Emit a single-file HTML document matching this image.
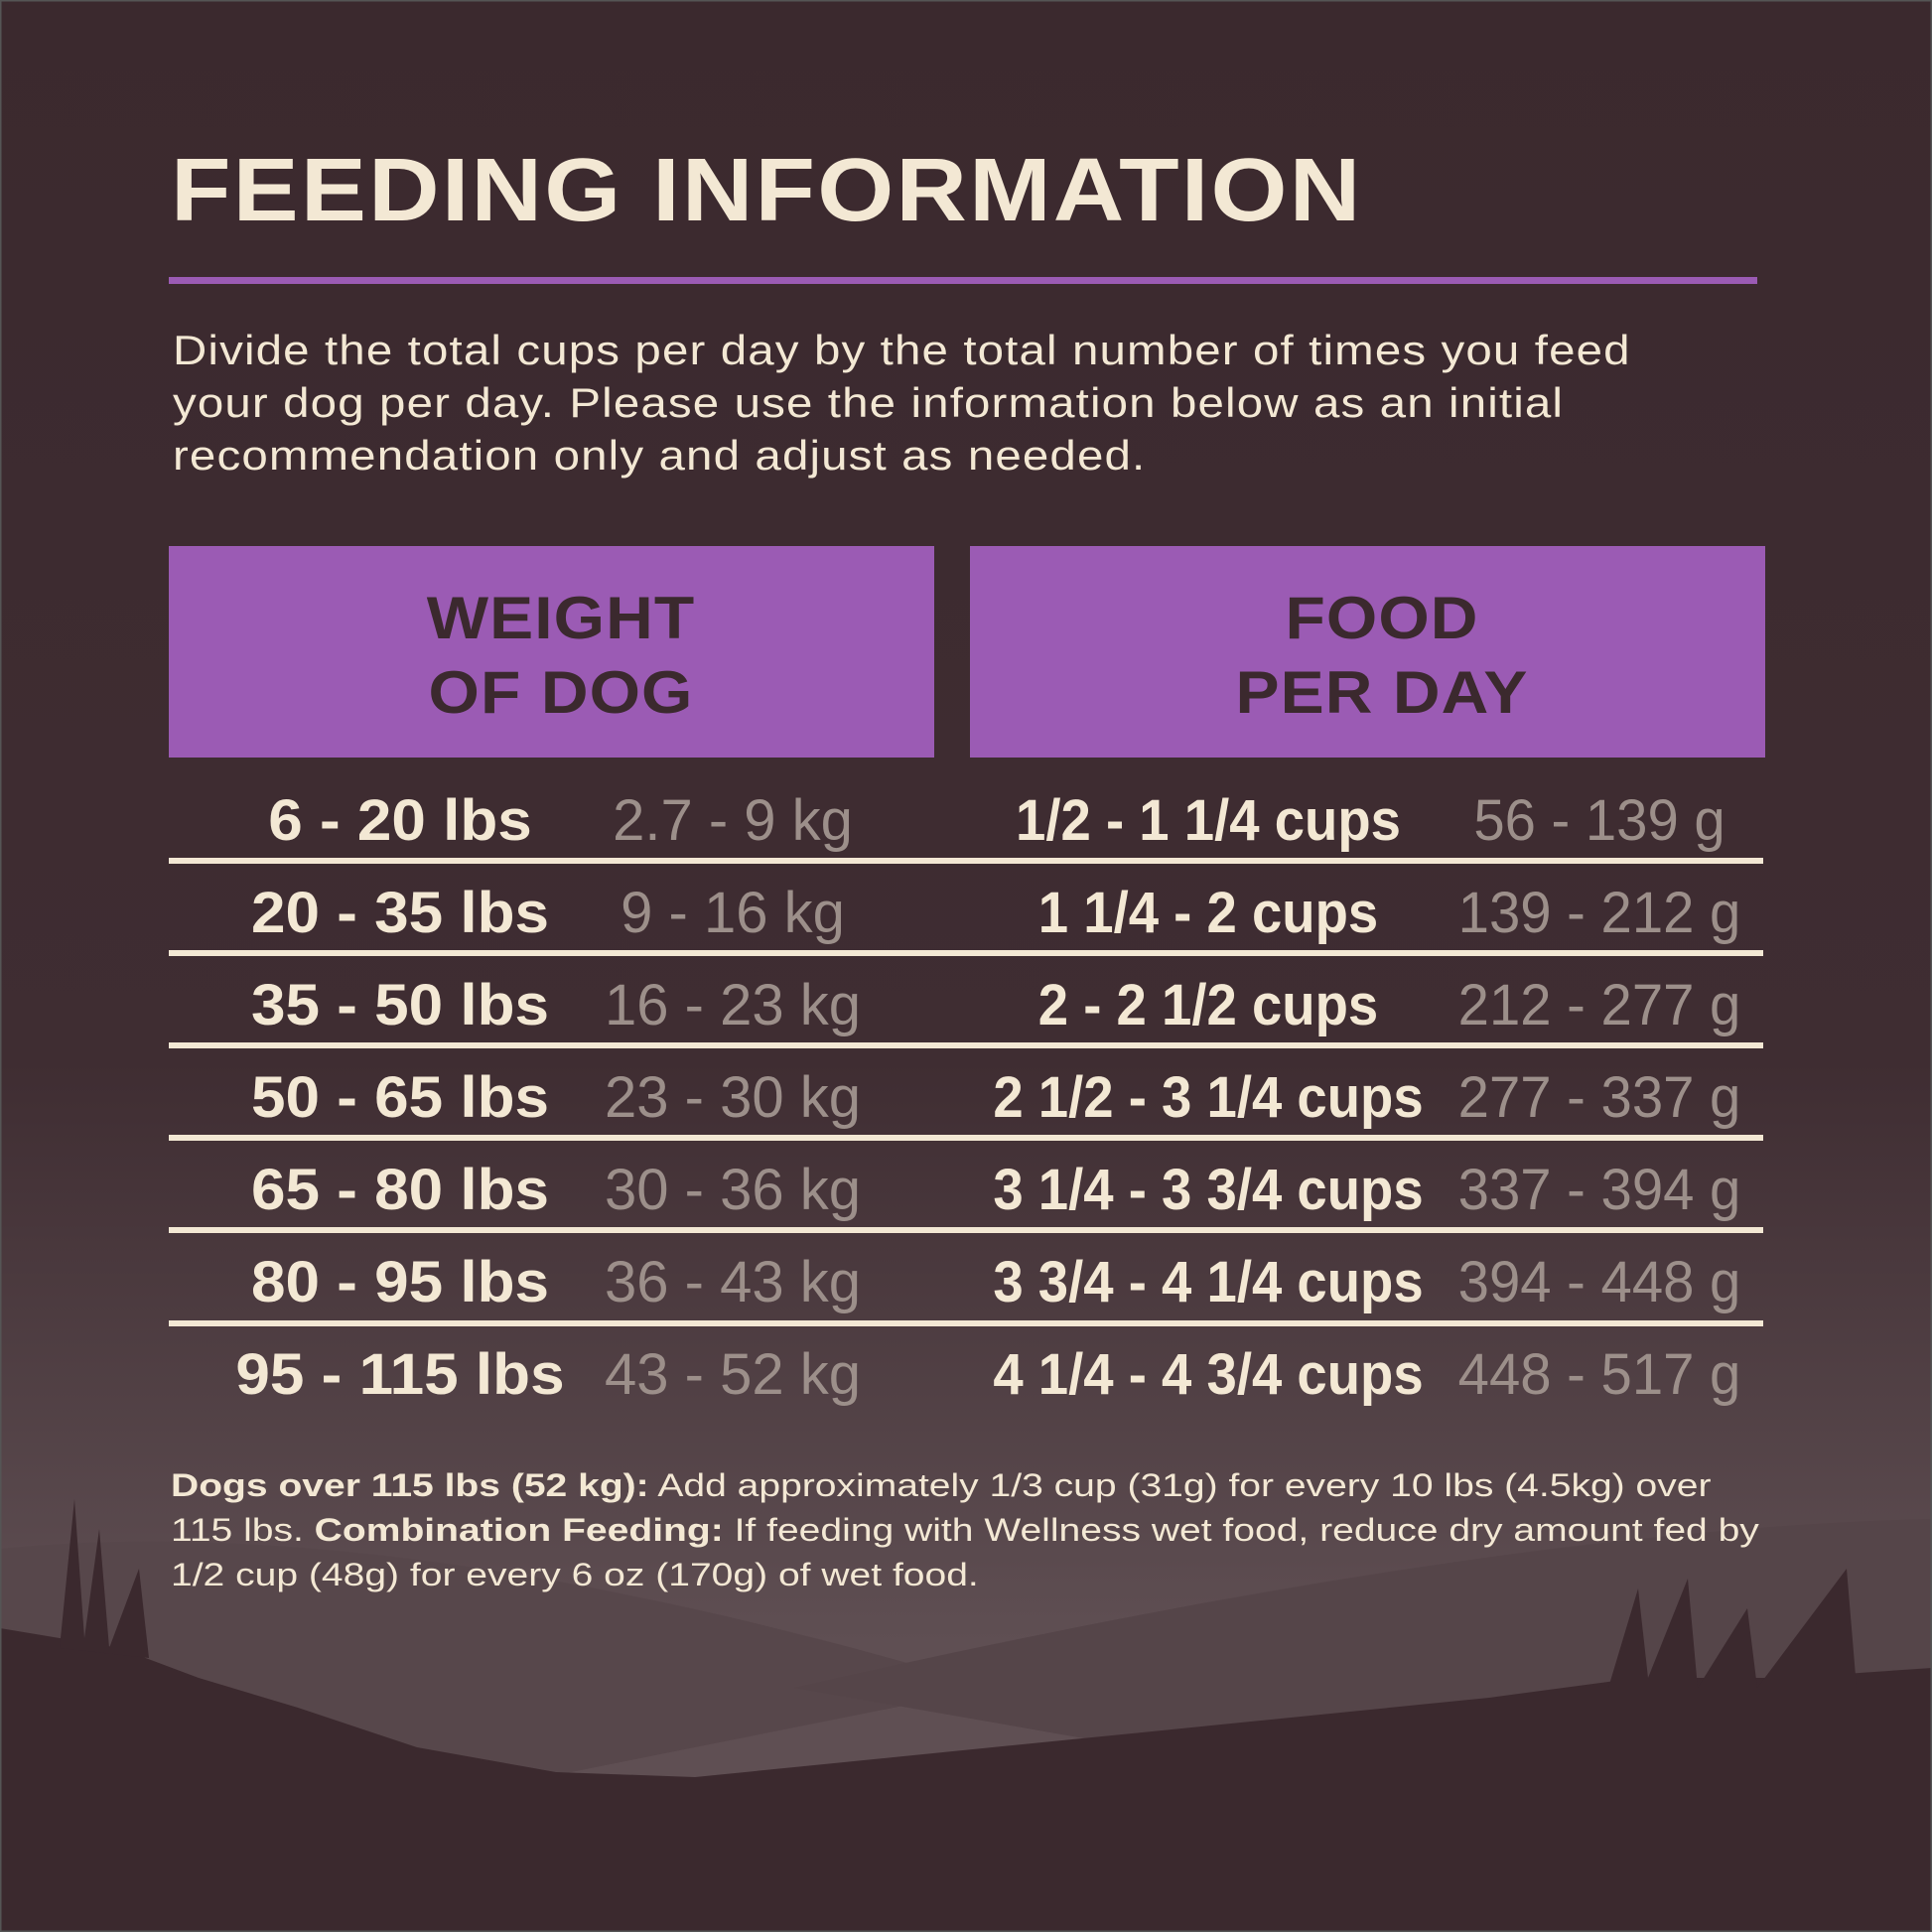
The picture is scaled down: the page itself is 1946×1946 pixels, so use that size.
<!DOCTYPE html>
<html><head><meta charset="utf-8"><style>
html,body{margin:0;padding:0}
body{width:1946px;height:1946px;position:relative;overflow:hidden;background:#3b292e;font-family:"Liberation Sans",sans-serif;}
.t{position:absolute;white-space:nowrap}
.r{font-weight:bold;font-size:58px;color:#f3e8d4;line-height:1}
.g{font-weight:normal;font-size:58px;color:#9c8f8a;line-height:1}
.lb{transform:translateX(-50%) scaleX(1.07)}
.kg{transform:translateX(-50%) scaleX(1.0)}
.cu{transform:translateX(-50%) scaleX(0.94)}
.gr{transform:translateX(-50%) scaleX(0.97)}
.line{position:absolute;left:170px;width:1606px;height:6px;background:#f3e8d4}
.h{position:absolute;top:550px;height:213px;background:#9b5bb4}
.ht{position:absolute;color:#3b292e;font-weight:bold;font-size:60px;text-align:center;line-height:75px;letter-spacing:1px;top:585px;transform:translateX(-50%) scaleX(1.1)}
</style></head><body>
<svg width="1946" height="1946" style="position:absolute;left:0;top:0">
<defs><linearGradient id="bg" x1="0" y1="0" x2="0" y2="1">
<stop offset="0" stop-color="#3b292e"/><stop offset="0.55" stop-color="#3f2d32"/><stop offset="0.85" stop-color="#5f4f53"/><stop offset="1" stop-color="#5f4f53"/></linearGradient></defs>
<rect width="1946" height="1946" fill="url(#bg)"/>
<path d="M0 1560 Q400 1520 1000 1700 L0 1900Z" fill="#57474b"/>
<path d="M1946 1530 Q1500 1540 800 1700 L1946 1900Z" fill="#554549"/>
<path d="M0 1640 L60 1650 L120 1660 L200 1690 L300 1720 L420 1760 L560 1785 L700 1790 L900 1770 L1100 1750 L1300 1730 L1500 1710 L1650 1690 L1800 1690 L1946 1680 L1946 1946 L0 1946Z" fill="#3b292e"/>
<path d="M60 1660 L75 1510 L85 1650 L100 1540 L110 1660 L140 1580 L150 1670Z M1620 1700 L1650 1600 L1660 1690 L1700 1590 L1710 1700 L1760 1620 L1770 1700 L1860 1580 L1870 1700Z" fill="#3b292e"/>
<rect x="0.5" y="0.5" width="1945" height="1945" fill="none" stroke="#555" stroke-width="2"/>
</svg>
<div class="t" style="left:172px;top:147px;font-size:90px;font-weight:bold;color:#f3e8d4;letter-spacing:2px;line-height:1;transform:scaleX(1.10);transform-origin:left">FEEDING INFORMATION</div>
<div style="position:absolute;left:170px;top:279px;width:1600px;height:7px;background:#9b5bb4"></div>
<div class="t" style="left:174px;top:326px;font-size:42px;color:#f3e8d4;line-height:53px;letter-spacing:1px;transform:scaleX(1.13);transform-origin:left">Divide the total cups per day by the total number of times you feed<br>your dog per day. Please use the information below as an initial<br>recommendation only and adjust as needed.</div>
<div class="h" style="left:170px;width:771px"></div>
<div class="h" style="left:977px;width:801px"></div>
<div class="ht" style="left:565px">WEIGHT<br>OF DOG</div>
<div class="ht" style="left:1392px">FOOD<br>PER DAY</div>

<div class="line" style="top:864px"></div>
<div class="line" style="top:957px"></div>
<div class="line" style="top:1050px"></div>
<div class="line" style="top:1143px"></div>
<div class="line" style="top:1236px"></div>
<div class="line" style="top:1330px"></div>

<div class="t lb r" style="left:403px;top:798px">6 - 20 lbs</div><div class="t kg g" style="left:738px;top:798px">2.7 - 9 kg</div><div class="t cu r" style="left:1217px;top:798px">1/2 - 1 1/4 cups</div><div class="t gr g" style="left:1611px;top:798px">56 - 139 g</div>
<div class="t lb r" style="left:403px;top:891px">20 - 35 lbs</div><div class="t kg g" style="left:738px;top:891px">9 - 16 kg</div><div class="t cu r" style="left:1217px;top:891px">1 1/4 - 2 cups</div><div class="t gr g" style="left:1611px;top:891px">139 - 212 g</div>
<div class="t lb r" style="left:403px;top:984px">35 - 50 lbs</div><div class="t kg g" style="left:738px;top:984px">16 - 23 kg</div><div class="t cu r" style="left:1217px;top:984px">2 - 2 1/2 cups</div><div class="t gr g" style="left:1611px;top:984px">212 - 277 g</div>
<div class="t lb r" style="left:403px;top:1077px">50 - 65 lbs</div><div class="t kg g" style="left:738px;top:1077px">23 - 30 kg</div><div class="t cu r" style="left:1217px;top:1077px">2 1/2 - 3 1/4 cups</div><div class="t gr g" style="left:1611px;top:1077px">277 - 337 g</div>
<div class="t lb r" style="left:403px;top:1170px">65 - 80 lbs</div><div class="t kg g" style="left:738px;top:1170px">30 - 36 kg</div><div class="t cu r" style="left:1217px;top:1170px">3 1/4 - 3 3/4 cups</div><div class="t gr g" style="left:1611px;top:1170px">337 - 394 g</div>
<div class="t lb r" style="left:403px;top:1263px">80 - 95 lbs</div><div class="t kg g" style="left:738px;top:1263px">36 - 43 kg</div><div class="t cu r" style="left:1217px;top:1263px">3 3/4 - 4 1/4 cups</div><div class="t gr g" style="left:1611px;top:1263px">394 - 448 g</div>
<div class="t lb r" style="left:403px;top:1356px">95 - 115 lbs</div><div class="t kg g" style="left:738px;top:1356px">43 - 52 kg</div><div class="t cu r" style="left:1217px;top:1356px">4 1/4 - 4 3/4 cups</div><div class="t gr g" style="left:1611px;top:1356px">448 - 517 g</div>

<div class="t" style="left:172px;top:1474px;font-size:32px;color:#f3e8d4;line-height:45px;transform:scaleX(1.22);transform-origin:left"><b>Dogs over 115 lbs (52 kg):</b> Add approximately 1/3 cup (31g) for every 10 lbs (4.5kg) over<br>115 lbs. <b>Combination Feeding:</b> If feeding with Wellness wet food, reduce dry amount fed by<br>1/2 cup (48g) for every 6 oz (170g) of wet food.</div>
</body></html>
